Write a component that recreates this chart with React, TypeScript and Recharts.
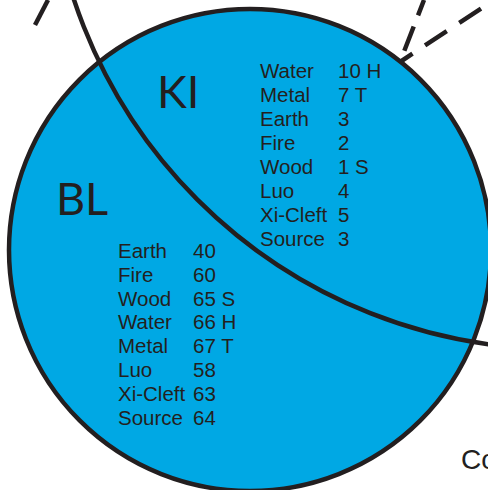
import { ReferenceLine, Scatter, ScatterChart, XAxis, YAxis } from "recharts";

// acupoint tables
const kiPoints = ["Water", "Metal", "Earth", "Fire", "Wood", "Luo", "Xi-Cleft", "Source"];
const kiNumbers = [10, 7, 3, 2, 1, 4, 5, 3];
const kiMarks = ["H", "T", "", "", "S", "", "", ""];

const blPoints = ["Earth", "Fire", "Wood", "Water", "Metal", "Luo", "Xi-Cleft", "Source"];
const blNumbers = [40, 60, 65, 66, 67, 58, 63, 64];
const blMarks = ["", "", "S", "H", "T", "", "", ""];

const regionLabels = ["KI", "BL"];
const cornerLabel = "Co";

// layout (pixel space, y down)
const W = 488;
const H = 490;
const INK = "#231f20";
const BLUE = "#00a8e4";
const KI_TABLE = { nameX: 260, valueX: 338, top: 78, step: 24 };
const BL_TABLE = { nameX: 118, valueX: 193, top: 258, step: 23.8 };
const LABEL_POS = [
  { x: 157, y: 108 },
  { x: 56, y: 215 },
];
const BLUE_CIRCLE = { x: 250, y: 250, r: 241 };
const ARC_CIRCLE = { x: 558, y: -161, r: 510 };

type Row = { x: number; y: number; text: string };

function tableRows(names: string[], nums: number[], marks: string[], t: typeof KI_TABLE) {
  const left: Row[] = names.map((n, i) => ({ x: t.nameX, y: t.top + i * t.step, text: n }));
  const right: Row[] = nums.map((v, i) => ({
    x: t.valueX,
    y: t.top + i * t.step,
    text: marks[i] ? `${v} ${marks[i]}` : `${v}`,
  }));
  return [...left, ...right];
}

const kiRows = tableRows(kiPoints, kiNumbers, kiMarks, KI_TABLE);
const blRows = tableRows(blPoints, blNumbers, blMarks, BL_TABLE);
const bigRows: Row[] = regionLabels.map((t, i) => ({ ...LABEL_POS[i], text: t }));
const coRows: Row[] = [{ x: 461, y: 469, text: cornerLabel }];

const textShape = (size: number, family: string) => (p: any) => (
  <text x={p.cx} y={p.cy} fontSize={size} fontFamily={family} fill={INK}>
    {p.payload.text}
  </text>
);

const circleShape = (r: number, fill: string) => (p: any) => (
  <circle cx={p.cx} cy={p.cy} r={r} fill={fill} stroke={INK} strokeWidth={4.5} />
);

export default function App() {
  return (
    <div
      style={{
        position: "absolute",
        left: 0,
        top: 0,
        width: W,
        height: H,
        overflow: "hidden",
        background: "#fff",
      }}
    >
      <ScatterChart width={W} height={H} margin={{ top: 0, right: 0, bottom: 0, left: 0 }}>
        <XAxis type="number" dataKey="x" domain={[0, W]} allowDataOverflow hide />
        <YAxis type="number" dataKey="y" domain={[0, H]} allowDataOverflow reversed hide />
        <Scatter data={[BLUE_CIRCLE]} shape={circleShape(BLUE_CIRCLE.r, BLUE)} isAnimationActive={false} />
        <Scatter data={[ARC_CIRCLE]} shape={circleShape(ARC_CIRCLE.r, "none")} isAnimationActive={false} />
        <ReferenceLine
          segment={[{ x: 35, y: 25 }, { x: 48, y: 0 }]}
          stroke={INK}
          strokeWidth={4.5}
        />
        <ReferenceLine
          segment={[{ x: 400, y: 62 }, { x: 424, y: 0 }]}
          stroke={INK}
          strokeWidth={4.5}
          strokeDasharray="26 12"
          strokeDashoffset={26}
        />
        <ReferenceLine
          segment={[{ x: 400, y: 62 }, { x: 488, y: 4 }]}
          stroke={INK}
          strokeWidth={4.5}
          strokeDasharray="26 15"
          strokeDashoffset={11}
        />
        <Scatter data={kiRows} shape={textShape(20.5, "'Liberation Sans', Arial, sans-serif")} isAnimationActive={false} />
        <Scatter data={blRows} shape={textShape(20.5, "'Liberation Sans', Arial, sans-serif")} isAnimationActive={false} />
        <Scatter data={bigRows} shape={textShape(45, "Lato, 'Open Sans', sans-serif")} isAnimationActive={false} />
        <Scatter data={coRows} shape={textShape(28, "'Liberation Sans', Arial, sans-serif")} isAnimationActive={false} />
      </ScatterChart>
    </div>
  );
}
